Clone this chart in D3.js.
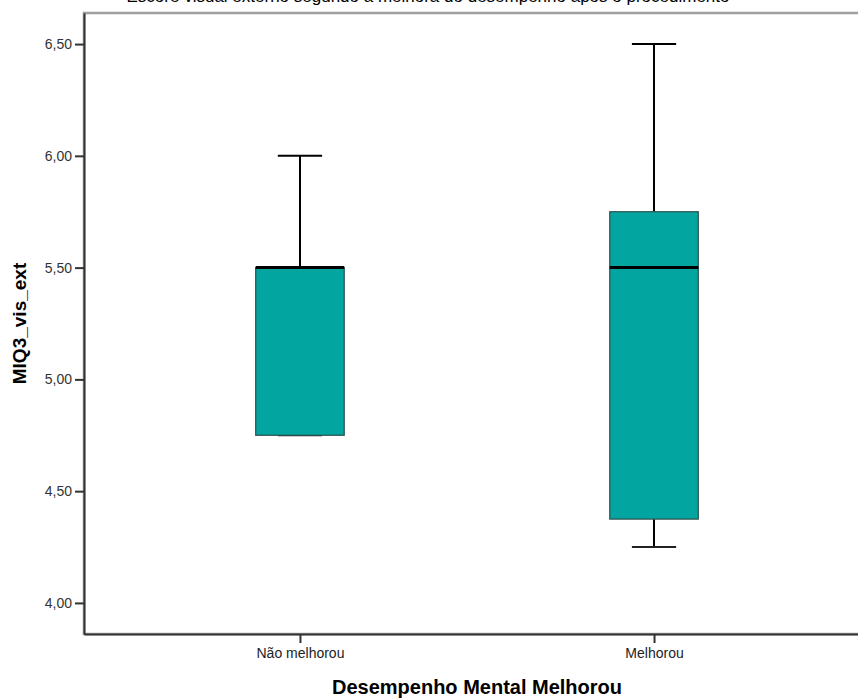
<!DOCTYPE html>
<html>
<head>
<meta charset="utf-8">
<script src="https://cdn.jsdelivr.net/npm/d3@7"></script>
<style>
  html, body { margin: 0; padding: 0; background: #fff; }
  svg { display: block; }
  text { font-family: "Liberation Sans", Arial, sans-serif; }
</style>
</head>
<body>
<svg id="chart" width="858" height="700"></svg>
<script>
// Groups and their five-number summaries
const categories = ["Não melhorou", "Melhorou"];
const whiskerLow  = [4.75, 4.25];
const quartile1   = [4.75, 4.375];
const medians     = [5.50, 5.50];
const quartile3   = [5.50, 5.75];
const whiskerHigh = [6.00, 6.50];

const yTicks = [4.00, 4.50, 5.00, 5.50, 6.00, 6.50];
const yDomain = [3.861, 6.639];

const chartTitle = "Escore visual externo segundo a melhora do desempenho após o procedimento";
const xTitle = "Desempenho Mental Melhorou";
const yTitle = "MIQ3_vis_ext";

const svg = d3.select("#chart");
const plotL = 84, plotR = 870, plotT = 13, plotB = 634;

const y = d3.scaleLinear().domain(yDomain).range([plotB, plotT]);
const x = d3.scalePoint().domain(categories).range([plotL, plotR]).padding(0.61);
const step = x.step();
const boxW = step * 0.25;
const capW = boxW * 0.5;

const fmt = v => d3.format(".2f")(v).replace(".", ",");

// chart title, running off the top edge of the page
svg.append("text")
  .attr("x", 428).attr("y", 1.5)
  .attr("text-anchor", "middle")
  .attr("font-size", 17)
  .attr("fill", "#000")
  .text(chartTitle);

// plot frame
svg.append("rect")
  .attr("x", plotL).attr("y", plotT)
  .attr("width", plotR - plotL).attr("height", plotB - plotT)
  .attr("fill", "#fff")
  .attr("stroke", "#a0a0a0").attr("stroke-width", 2.5);

const rows = categories.map((c, i) => ({
  c, lo: whiskerLow[i], q1: quartile1[i], med: medians[i], q3: quartile3[i], hi: whiskerHigh[i]
}));

const box = svg.append("g").selectAll("g.box").data(rows).join("g").attr("class", "box");

// whisker stems
box.append("line")
  .attr("x1", d => x(d.c)).attr("x2", d => x(d.c))
  .attr("y1", d => y(d.hi)).attr("y2", d => y(d.q3))
  .attr("stroke", "#000").attr("stroke-width", 2);
box.append("line")
  .attr("x1", d => x(d.c)).attr("x2", d => x(d.c))
  .attr("y1", d => y(d.q1)).attr("y2", d => y(d.lo))
  .attr("stroke", "#000").attr("stroke-width", 2);

// whisker caps
box.append("line")
  .attr("x1", d => x(d.c) - capW / 2).attr("x2", d => x(d.c) + capW / 2)
  .attr("y1", d => y(d.hi)).attr("y2", d => y(d.hi))
  .attr("stroke", "#000").attr("stroke-width", 2);
box.append("line")
  .attr("x1", d => x(d.c) - capW / 2).attr("x2", d => x(d.c) + capW / 2)
  .attr("y1", d => y(d.lo)).attr("y2", d => y(d.lo))
  .attr("stroke", "#222").attr("stroke-width", 2);

// interquartile boxes
box.append("rect")
  .attr("x", d => x(d.c) - boxW / 2)
  .attr("y", d => y(d.q3))
  .attr("width", boxW)
  .attr("height", d => y(d.q1) - y(d.q3))
  .attr("fill", "#02a59f")
  .attr("stroke", "#2e4f4d").attr("stroke-width", 1.2);

// medians
box.append("line")
  .attr("x1", d => x(d.c) - boxW / 2).attr("x2", d => x(d.c) + boxW / 2)
  .attr("y1", d => y(d.med)).attr("y2", d => y(d.med))
  .attr("stroke", "#000").attr("stroke-width", 3);

// y axis
const yAxis = svg.append("g")
  .attr("transform", `translate(${plotL},0)`)
  .call(d3.axisLeft(y).tickValues(yTicks).tickFormat(fmt)
    .tickSize(9).tickSizeOuter(0).tickPadding(3));
yAxis.select(".domain").attr("stroke", "#333").attr("stroke-width", 2);
yAxis.selectAll(".tick line").attr("stroke", "#333").attr("stroke-width", 2);
yAxis.selectAll(".tick text").attr("font-size", 14).attr("fill", "#333")
  .attr("font-family", "Liberation Sans, Arial, sans-serif");

// x axis
const xAxis = svg.append("g")
  .attr("transform", `translate(0,${plotB})`)
  .call(d3.axisBottom(x).tickSize(9).tickSizeOuter(0).tickPadding(5));
xAxis.select(".domain").attr("stroke", "#333").attr("stroke-width", 2);
xAxis.selectAll(".tick line").attr("stroke", "#333").attr("stroke-width", 2);
xAxis.selectAll(".tick text").attr("font-size", 14).attr("fill", "#222")
  .attr("font-family", "Liberation Sans, Arial, sans-serif");

// axis titles
svg.append("text")
  .attr("x", (plotL + plotR) / 2).attr("y", 694)
  .attr("text-anchor", "middle")
  .attr("font-size", 20).attr("font-weight", "bold")
  .attr("fill", "#000")
  .text(xTitle);

svg.append("text")
  .attr("transform", `translate(26,${(plotT + plotB) / 2}) rotate(-90)`)
  .attr("text-anchor", "middle")
  .attr("font-size", 19).attr("font-weight", "bold")
  .attr("fill", "#000")
  .text(yTitle);
</script>
</body>
</html>
